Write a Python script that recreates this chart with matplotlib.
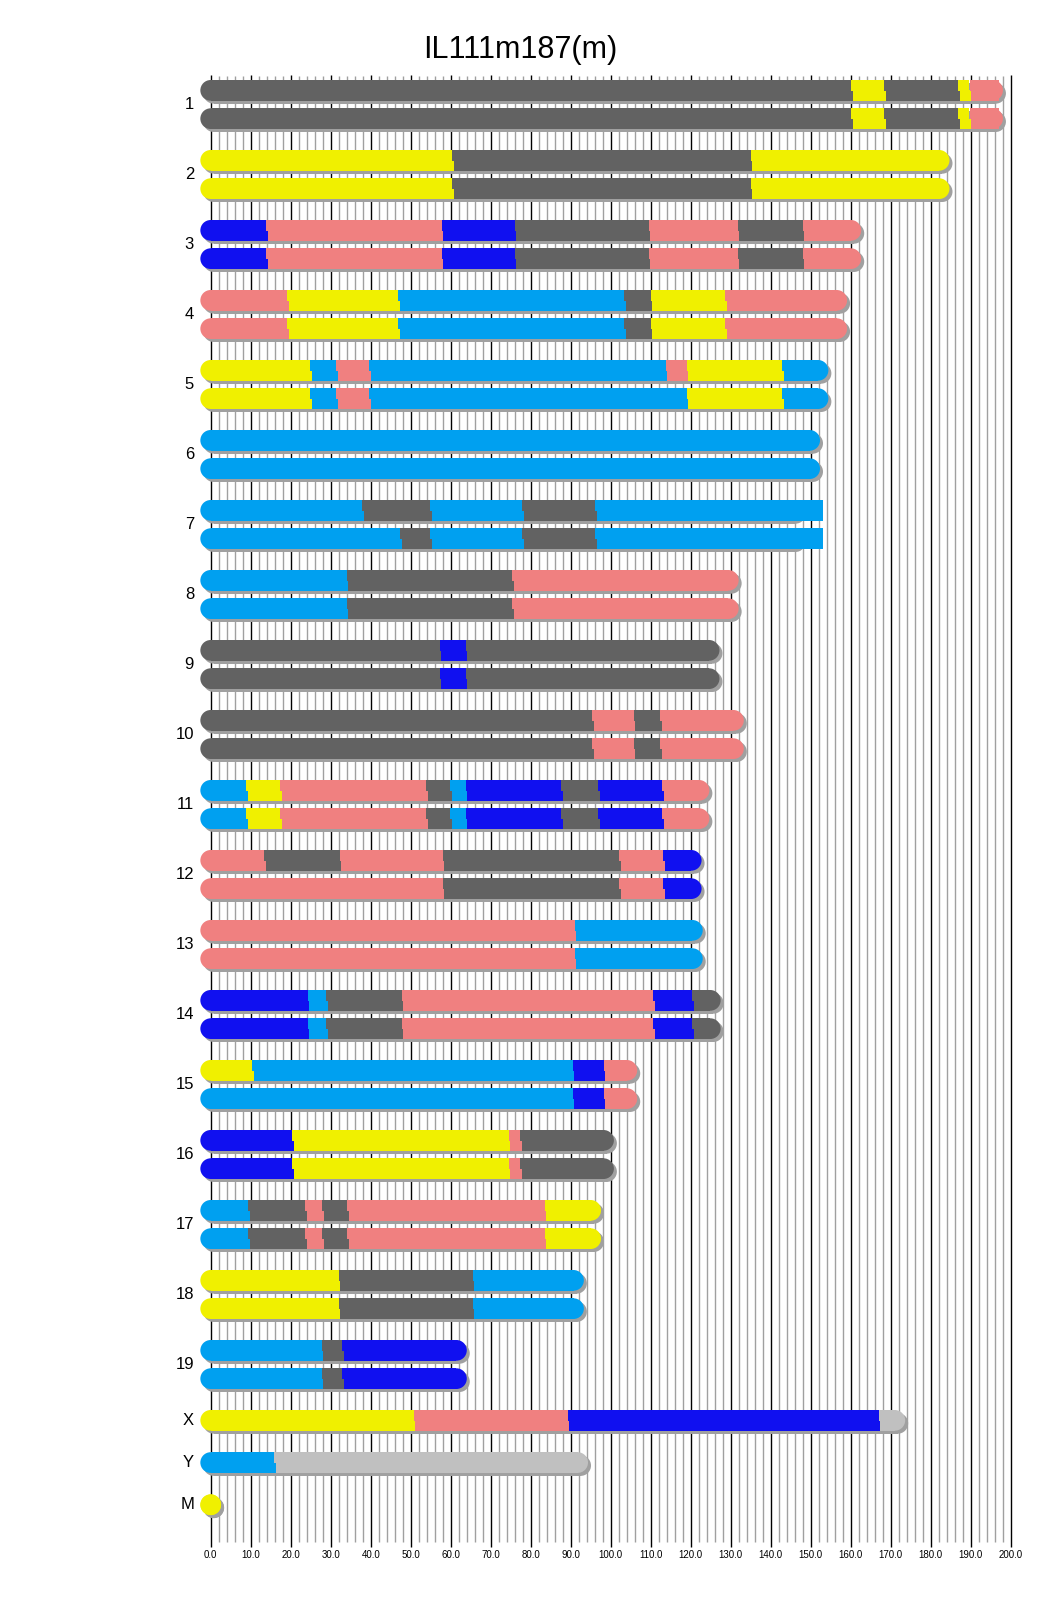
import matplotlib
matplotlib.use("Agg")
import matplotlib.pyplot as plt
from matplotlib.patches import Rectangle, Ellipse

# ---------------- data ----------------
title = "IL111m187(m)"
chrom_names = ["1", "2", "3", "4", "5", "6", "7", "8", "9", "10", "11", "12", "13",
               "14", "15", "16", "17", "18", "19", "X", "Y", "M"]
chrom_lengths = [195.47, 182.11, 160.04, 156.51, 151.83, 149.74, 145.44, 129.40,
                 124.60, 130.69, 122.08, 120.13, 120.42, 124.90, 104.04, 98.21,
                 94.99, 90.70, 61.43, 171.03, 91.74, 0.016]
tick_values = [0, 10, 20, 30, 40, 50, 60, 70, 80, 90, 100, 110, 120, 130, 140,
               150, 160, 170, 180, 190, 200]

# founder codes: A yellow, B dark grey, C pink, D blue, E light blue, U unknown
hap_1 = [("B", 160.1), ("A", 168.3), ("B", 186.9), ("A", 189.7), ("C", 197.1)]
hap_2 = [("A", 60.3), ("B", 135.0), ("A", 182.11)]
hap_3 = [("D", 13.9), ("C", 57.7), ("D", 76.0), ("B", 109.5), ("C", 131.7), ("B", 148.0), ("C", 160.04)]
hap_4 = [("C", 19.1), ("A", 46.9), ("E", 103.4), ("B", 110.0), ("A", 128.6), ("C", 156.51)]
hap_5a = [("A", 24.8), ("E", 31.3), ("C", 39.6), ("E", 113.7), ("C", 119.0), ("A", 142.8), ("E", 151.83)]
hap_5b = [("A", 24.8), ("E", 31.3), ("C", 39.6), ("E", 119.0), ("A", 142.8), ("E", 151.83)]
hap_6 = [("E", 149.74)]
hap_7a = [("E", 37.9), ("B", 54.9), ("E", 77.8), ("B", 96.1), ("E", 153.0)]
hap_7b = [("E", 47.4), ("B", 54.9), ("E", 77.8), ("B", 96.1), ("E", 153.0)]
hap_8 = [("E", 34.0), ("B", 75.3), ("C", 129.40)]
hap_9 = [("B", 57.2), ("D", 63.7), ("B", 124.60)]
hap_10 = [("B", 95.4), ("C", 105.7), ("B", 112.4), ("C", 130.69)]
hap_11 = [("E", 8.8), ("A", 17.3), ("C", 53.9), ("B", 59.8), ("E", 63.7), ("D", 87.6),
          ("B", 96.8), ("D", 112.8), ("C", 122.08)]
hap_12a = [("C", 13.4), ("B", 32.2), ("C", 58.0), ("B", 102.1), ("C", 113.1), ("D", 120.13)]
hap_12b = [("C", 58.0), ("B", 102.1), ("C", 113.1), ("D", 120.13)]
hap_13 = [("C", 91.0), ("E", 120.42)]
hap_14 = [("D", 24.2), ("E", 28.9), ("B", 47.7), ("C", 110.6), ("D", 120.4), ("B", 124.90)]
hap_15a = [("A", 10.3), ("E", 90.5), ("D", 98.2), ("C", 104.04)]
hap_15b = [("E", 90.5), ("D", 98.2), ("C", 104.04)]
hap_16 = [("D", 20.3), ("A", 74.5), ("C", 77.3), ("B", 98.21)]
hap_17 = [("E", 9.3), ("B", 23.6), ("C", 27.8), ("B", 34.1), ("C", 83.5), ("A", 94.99)]
hap_18 = [("A", 32.0), ("B", 65.5), ("E", 90.70)]
hap_19 = [("E", 27.7), ("B", 32.9), ("D", 61.43)]
hap_X = [("A", 50.7), ("C", 89.2), ("D", 167.0), ("U", 171.03)]
hap_Y = [("E", 15.8), ("U", 91.74)]
hap_M = [("A", 0.016)]

haplotypes = [
    [hap_1, hap_1], [hap_2, hap_2], [hap_3, hap_3], [hap_4, hap_4], [hap_5a, hap_5b],
    [hap_6, hap_6], [hap_7a, hap_7b], [hap_8, hap_8], [hap_9, hap_9], [hap_10, hap_10],
    [hap_11, hap_11], [hap_12a, hap_12b], [hap_13, hap_13], [hap_14, hap_14],
    [hap_15a, hap_15b], [hap_16, hap_16], [hap_17, hap_17], [hap_18, hap_18],
    [hap_19, hap_19], [hap_X], [hap_Y], [hap_M],
]

# ---------------- style ----------------
colors = {"A": "#F0F000", "B": "#626262", "C": "#F08080", "D": "#1010F0",
          "E": "#00A0F0", "U": "#C0C0C0"}
shadow_color = "#A0A0A0"
W, H = 1040, 1616
x0_px = 210.7          # pixel column of 0 Mb
px_per_mb = 4.0
bar_h = 20.7
pair_pitch = 28.3
row_pitch = 70.0
first_top = 80.0
cap_r = bar_h / 2.0 / px_per_mb   # cap radius in Mb
half_shift = 0.4
sh_dx, sh_dy = 3.0 / px_per_mb, 3.0

fig = plt.figure(figsize=(W / 100, H / 100), dpi=100)
ax = fig.add_axes([0, 0, 1, 1])
ax.set_xlim(-x0_px / px_per_mb, (W - x0_px) / px_per_mb)
ax.set_ylim(H, 0)
ax.axis("off")

# grid lines
for v in range(0, 201, 2):
    if v % 10 == 0:
        ax.vlines(v, 75, 1547, color="black", lw=1.0, zorder=1)
    else:
        ax.vlines(v, 76, 1542, color=shadow_color, lw=1.0, zorder=1)

for v in tick_values:
    ax.text(v, 1555, "%.1f" % v, ha="center", va="center", fontsize=7,
            family="Liberation Sans", color="black")


def draw_bar(top, length, segs):
    yc = top + bar_h / 2
    # shadow
    ax.add_patch(Rectangle((sh_dx, top + sh_dy), length, bar_h, fc=shadow_color,
                           ec="none", zorder=2))
    for cx in (sh_dx, length + sh_dx):
        ax.add_patch(Ellipse((cx, yc + sh_dy), 2 * cap_r, bar_h, fc=shadow_color,
                             ec="none", zorder=2))
    # caps
    ax.add_patch(Ellipse((0, yc), 2 * cap_r, bar_h, fc=colors[segs[0][0]], ec="none", zorder=3))
    ax.add_patch(Ellipse((length, yc), 2 * cap_r, bar_h, fc=colors[segs[-1][0]], ec="none", zorder=3))
    start = 0.0
    n = len(segs)
    for i, (code, end) in enumerate(segs):
        c = colors[code]
        ax.add_patch(Rectangle((start, top), end - start, bar_h / 2 + 0.3, fc=c,
                               ec="none", zorder=4))
        s2 = start + half_shift if i > 0 else start
        e2 = end + half_shift if i < n - 1 else end
        ax.add_patch(Rectangle((s2, yc), e2 - s2, bar_h / 2, fc=c, ec="none", zorder=4))
        start = end


label_x = (194 - x0_px) / px_per_mb
for idx, name in enumerate(chrom_names):
    haps = haplotypes[idx]
    L = chrom_lengths[idx]
    if idx < 19:
        top = first_top + row_pitch * idx
        draw_bar(top, L, haps[0])
        draw_bar(top + pair_pitch, L, haps[1])
        yc = top + (pair_pitch + bar_h) / 2
    else:
        top = 1410.0 + 42.2 * (idx - 19)
        draw_bar(top, L, haps[0])
        yc = top + bar_h / 2
    ax.text(label_x, yc, name, ha="right", va="center", fontsize=12,
            family="Liberation Sans", color="black")

fig.text(0.5, 1 - 50 / H, title, ha="center", va="center", fontsize=22,
         family="Liberation Sans", color="black")

fig.savefig("out.png", dpi=100)
